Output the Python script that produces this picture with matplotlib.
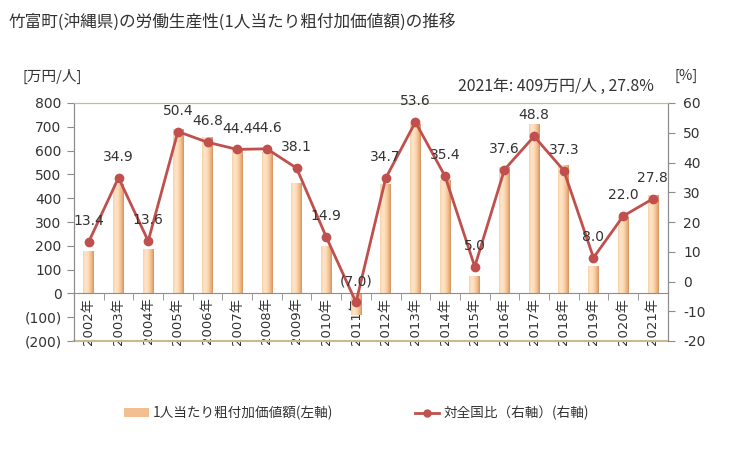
import numpy as np
import matplotlib
matplotlib.use('Agg')
import matplotlib.pyplot as plt
from matplotlib.colors import LinearSegmentedColormap
from matplotlib.patches import Rectangle
from matplotlib.lines import Line2D
from matplotlib.ticker import FixedLocator, FuncFormatter

plt.rcParams['font.family'] = ['DejaVu Sans', 'Noto Sans CJK JP']
plt.rcParams['axes.unicode_minus'] = False

years = ['2002年', '2003年', '2004年', '2005年', '2006年', '2007年', '2008年',
         '2009年', '2010年', '2011年', '2012年', '2013年', '2014年', '2015年',
         '2016年', '2017年', '2018年', '2019年', '2020年', '2021年']
value = [173, 454, 183, 688, 653, 604, 590, 460, 194, -92, 454, 710, 474, 68,
         527, 706, 535, 110, 316, 409]
ratio = [13.4, 34.9, 13.6, 50.4, 46.8, 44.4, 44.6, 38.1, 14.9, -7.0, 34.7,
         53.6, 35.4, 5.0, 37.6, 48.8, 37.3, 8.0, 22.0, 27.8]

title = '竹富町(沖縄県)の労働生産性(1人当たり粗付加価値額)の推移'
note = '2021年: 409万円/人 , 27.8%'

txt = '#333333'
gray = '#8c8c8c'
tan = '#c8b98f'
red = '#c0504d'

fig = plt.figure(figsize=(7.29, 4.5), dpi=100)
ax = fig.add_axes([74/729, 109/450, (667.7-74)/729, 238/450])
ax2 = ax.twinx()

# gradient bars (light left, darker right edge)
cmap = LinearSegmentedColormap.from_list('bar', ['#f9d2a8', '#fee5ca', '#fcd9b5', '#f2bd8c', '#d89262'])
grad = np.linspace(0, 1, 64).reshape(1, -1)
w = 0.36
x = np.arange(len(years))
for xi, v in zip(x, value):
    ax.imshow(grad, cmap=cmap, aspect='auto', extent=[xi - w/2, xi + w/2, min(0, v), max(0, v)],
              interpolation='bilinear', zorder=2)

ax.set_xlim(-0.5, len(years) - 0.5)
ax.set_ylim(-200, 800)
ax2.set_ylim(-20, 60)

ax2.plot(x, ratio, color=red, lw=2, marker='o', ms=6, zorder=3)
for xi, r in zip(x, ratio):
    s = f'({abs(r):.1f})' if r < 0 else f'{r:.1f}'
    ax2.annotate(s, (xi, r), xytext=(0, 15), textcoords='offset points',
                 ha='center', va='center', fontsize=10, color=txt)

# axes styling
ax.spines['bottom'].set_position(('data', 0))
ax.spines['bottom'].set_color(gray)
for a in (ax, ax2):
    a.spines['top'].set_color(tan)
    a.spines['left'].set_color(gray)
    a.spines['right'].set_color(gray)
ax2.spines['bottom'].set_visible(False)
ax.axhline(-200, color=tan, lw=1.5, clip_on=False, zorder=5)

ax.set_xticks(x)
ax.set_xticklabels(years, rotation=90, fontsize=9.5, color=txt)
ax.xaxis.set_minor_locator(FixedLocator(np.arange(0.5, len(years) - 1, 1)))
ax.tick_params(axis='x', which='major', length=0, pad=3)
ax.tick_params(axis='x', which='minor', length=5, color=gray, direction='out')

ax.set_yticks(np.arange(-200, 801, 100))
ax.yaxis.set_major_formatter(FuncFormatter(lambda v, p: f'({abs(int(v))})' if v < 0 else f'{int(v)}'))
ax.tick_params(axis='y', length=5, color=gray, labelsize=10, labelcolor=txt, pad=4)
ax2.set_yticks(np.arange(-20, 61, 10))
ax2.tick_params(axis='y', length=5, color=gray, labelsize=10, labelcolor=txt, pad=6)

fig.text(9/729, 1 - 22/450, title, fontsize=12, color=txt, va='center',
         family=['Noto Sans CJK JP'])
fig.text(22/729, 1 - 76/450, '[万円/人]', fontsize=10.5, color=txt, va='center',
         family=['Noto Sans CJK JP'])
fig.text(675/729, 1 - 76/450, '[%]', fontsize=10.5, color=txt, va='center',
         family=['Noto Sans CJK JP'])
fig.text(654/729, 1 - 86/450, note, fontsize=11.4, color=txt, va='center', ha='right',
         family=['Noto Sans CJK JP'])

h1 = Rectangle((0, 0), 1, 1, facecolor='#f2bf91', edgecolor='none')
h2 = Line2D([0], [0], color=red, lw=2, marker='o', ms=5)
fig.legend([h1, h2], ['1人当たり粗付加価値額(左軸)', '対全国比（右軸）(右軸)'],
           loc='center left', bbox_to_anchor=(112/729, 1 - 413/450), ncol=2, frameon=False,
           columnspacing=6.0, handlelength=1.8, handletextpad=0.3,
           prop={'family': 'Noto Sans CJK JP', 'size': 9.8}, labelcolor=txt)

fig.savefig('out.png', dpi=100)
